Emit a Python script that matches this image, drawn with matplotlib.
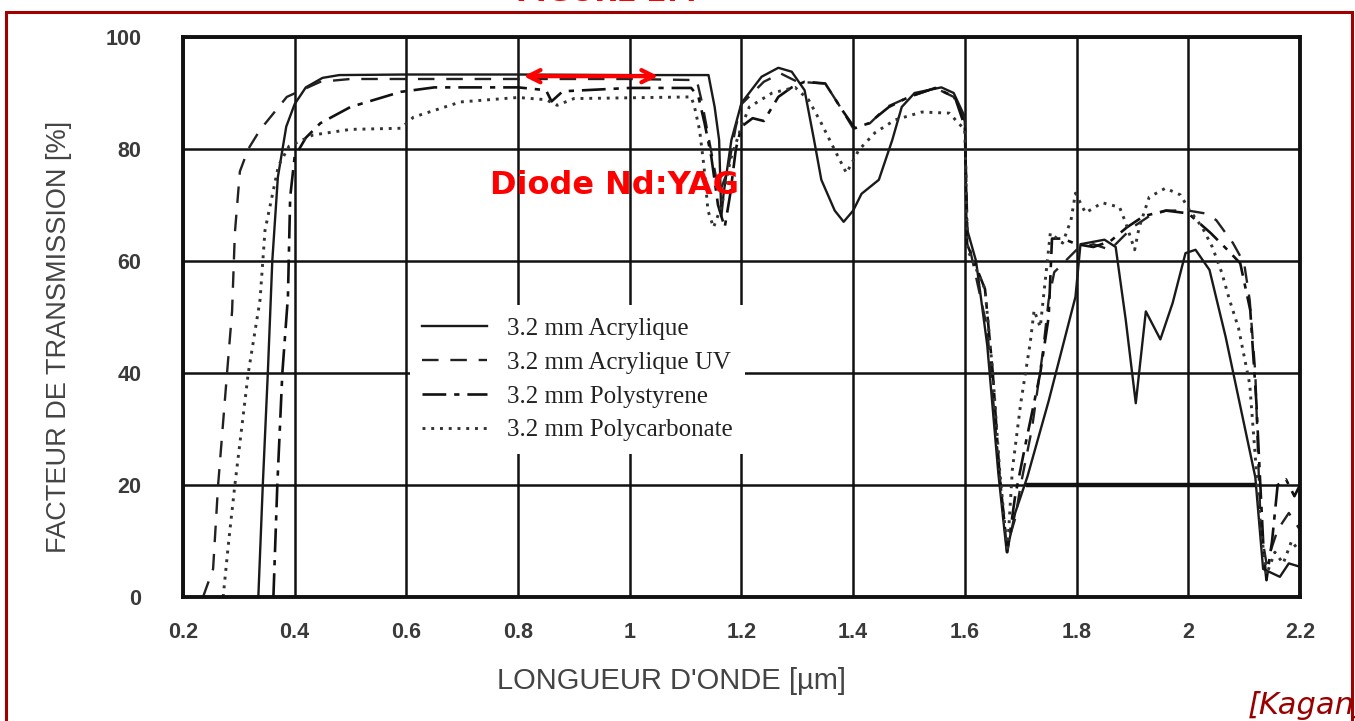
import matplotlib
matplotlib.use("Agg")
import matplotlib.pyplot as plt
from matplotlib.patches import Rectangle

# --- data (wavelength in um, transmission in %) ---
acry_x = [0.335, 0.343, 0.352, 0.36, 0.37, 0.385, 0.40, 0.42, 0.45, 0.48, 0.6, 0.8, 1.0, 1.141,
          1.152, 1.16, 1.164, 1.168, 1.182, 1.2, 1.236, 1.266, 1.29, 1.313, 1.33, 1.343, 1.367,
          1.383, 1.4, 1.415, 1.446, 1.47, 1.487, 1.51, 1.558, 1.58, 1.6, 1.603, 1.62, 1.64, 1.66,
          1.675, 1.69, 1.712, 1.75, 1.798, 1.807, 1.85, 1.87, 1.888, 1.906, 1.924, 1.95, 1.972,
          1.995, 2.013, 2.038, 2.067, 2.092, 2.12, 2.134, 2.164, 2.18, 2.2]
acry_y = [0, 20, 40, 60, 75, 84, 88, 91, 92.7, 93.2, 93.3, 93.3, 93.2, 93.2,
          87.5, 81.6, 68, 72, 81.6, 88.2, 92.9, 94.5, 93.8, 90.5, 81.6, 74.5, 69,
          67, 69, 72, 74.5, 81.6, 87.5, 90, 91, 90, 85.7, 66, 60, 45, 22,
          8, 15, 21.5, 35, 53.6, 63, 63.8, 62.5, 49.5, 34.6, 51, 46, 52.5,
          61.4, 62, 58.4, 46.4, 34.6, 21.4, 5, 3.6, 6, 5.4]

uv_x = [0.236, 0.254, 0.263, 0.279, 0.288, 0.293, 0.302, 0.317, 0.338, 0.386, 0.446, 0.5, 1.0,
        1.12, 1.13, 1.145, 1.16, 1.175, 1.19, 1.2, 1.24, 1.27, 1.3, 1.35, 1.38, 1.4, 1.43, 1.46,
        1.5, 1.547, 1.58, 1.6, 1.605, 1.64, 1.66, 1.675, 1.69, 1.70, 1.72, 1.74, 1.75, 1.76, 1.78,
        1.8, 1.83, 1.86, 1.88, 1.9, 1.93, 1.96, 2.0, 2.03, 2.05, 2.08, 2.10, 2.11, 2.12, 2.125,
        2.13, 2.14, 2.16, 2.18, 2.2]
uv_y = [0, 5, 20, 40, 51, 65, 76, 80, 83.4, 89.3, 92.0, 92.5, 92.5,
        92.3, 88, 80, 72, 76, 84, 88, 92, 93.5, 92, 91.7, 87, 83.7, 84.6, 87.5,
        89.3, 90.9, 89.3, 85, 64, 48, 24, 9, 14, 20, 30, 44, 53, 58, 60,
        62, 63, 62, 64, 66, 68, 69, 69, 68.5, 67.3, 63.2, 59.6, 53, 40, 25,
        12, 6, 12, 15, 12]

ps_x = [0.362, 0.369, 0.378, 0.388, 0.392, 0.40, 0.42, 0.446, 0.5, 0.59, 0.65, 0.8, 0.85, 0.86,
        0.88, 1.0, 1.11, 1.123, 1.134, 1.146, 1.158, 1.17, 1.18, 1.19, 1.2, 1.22, 1.24, 1.266,
        1.29, 1.313, 1.35, 1.38, 1.403, 1.428, 1.464, 1.5, 1.547, 1.582, 1.6, 1.604, 1.636, 1.65,
        1.662, 1.676, 1.69, 1.71, 1.735, 1.75, 1.756, 1.775, 1.8, 1.83, 1.86, 1.89, 1.92, 1.96,
        2.0, 2.04, 2.07, 2.093, 2.111, 2.122, 2.128, 2.135, 2.14, 2.15, 2.16, 2.175, 2.19, 2.2]
ps_y = [0, 20, 40, 53.6, 71.4, 78.6, 82, 84.6, 87.5, 90.2, 91, 91, 90.5, 88.5,
        90.3, 90.9, 90.9, 89.3, 84.6, 78.6, 70, 66, 72, 80, 84, 85.5, 85, 89.3,
        91, 92, 91.7, 87, 83.7, 84.6, 87.5, 89.3, 90.9, 89.3, 84, 63, 55, 40,
        22, 8, 18, 28, 40, 50, 64, 64, 63, 62.5, 63.5, 66, 68, 69,
        68.5, 65, 62, 59.6, 51.2, 34.6, 22, 8, 3, 10, 20, 21, 18, 20]

pc_x = [0.272, 0.282, 0.293, 0.305, 0.317, 0.338, 0.347, 0.371, 0.39, 0.433, 0.5, 0.59, 0.613,
        0.697, 0.8, 0.85, 0.87, 0.9, 1.11, 1.116, 1.125, 1.133, 1.14, 1.15, 1.165, 1.18, 1.2,
        1.214, 1.255, 1.296, 1.32, 1.343, 1.367, 1.388, 1.41, 1.439, 1.475, 1.523, 1.572, 1.6,
        1.605, 1.636, 1.65, 1.662, 1.676, 1.685, 1.70, 1.717, 1.724, 1.735, 1.753, 1.775, 1.79,
        1.798, 1.816, 1.846, 1.877, 1.888, 1.904, 1.912, 1.93, 1.959, 1.986, 2.002, 2.025, 2.043,
        2.06, 2.074, 2.09, 2.11, 2.12, 2.13, 2.14, 2.155, 2.17, 2.185, 2.2]
pc_y = [0, 10, 20, 30, 40, 53, 65.5, 77, 80.5, 82.5, 83.5, 83.7, 85.7,
        88.4, 89.2, 88.8, 87.8, 89, 89.3, 87.5, 83.4, 76.8, 69, 66, 70, 78, 84,
        87.5, 90, 91, 88.8, 84.6, 79.8, 75.7, 79.8, 82.9, 85.2, 86.6, 86.4, 83.4,
        62, 55, 40, 23, 8, 22.7, 34.6, 45.4, 51.2, 48.2, 65, 63.2, 67.3,
        72.1, 68.6, 70.4, 69.6, 66.8, 62, 66, 71.4, 73, 71.8, 69.1, 66, 62.5,
        57.9, 53, 48, 38, 25, 12, 4, 8, 6, 10, 8]

# heavy segment on the 20 % line in the original scan
flat20_level = 20
flat20_from, flat20_to = 1.71, 2.12

# Nd:YAG diode band marked with the red arrow
diode_from, diode_to, diode_level = 0.805, 1.056, 93.0

labels = ["3.2 mm Acrylique", "3.2 mm Acrylique UV", "3.2 mm Polystyrene", "3.2 mm Polycarbonate"]
xticks = [0.2, 0.4, 0.6, 0.8, 1.0, 1.2, 1.4, 1.6, 1.8, 2.0, 2.2]
xtick_labels = ["0.2", "0.4", "0.6", "0.8", "1", "1.2", "1.4", "1.6", "1.8", "2", "2.2"]
yticks = [0, 20, 40, 60, 80, 100]

fig = plt.figure(figsize=(13.55, 7.21), dpi=100)
ax = fig.add_axes([0.135, 0.172, 0.8244, 0.7767])

ax.plot(acry_x, acry_y, color="#1a1a1a", lw=1.7, label=labels[0])
ax.plot(uv_x, uv_y, color="#222222", lw=1.7, ls=(0, (7, 5)), label=labels[1])
ax.plot(ps_x, ps_y, color="#111111", lw=1.9, ls=(0, (9, 3, 2, 3)), label=labels[2])
ax.plot(pc_x, pc_y, color="#333333", lw=2.1, ls=(0, (1, 2)), label=labels[3])
ax.hlines(flat20_level, flat20_from, flat20_to, color="#111111", lw=3.2)

ax.set_xlim(0.2, 2.2)
ax.set_ylim(0, 100)
ax.set_xticks(xticks)
ax.set_xticklabels(xtick_labels)
ax.set_yticks(yticks)
ax.grid(True, color="#111111", lw=1.8)
ax.set_axisbelow(True)
for s in ax.spines.values():
    s.set_linewidth(2.8)
    s.set_color("#111111")

ax.tick_params(axis="x", length=0, pad=18, labelcolor="#3a3a3a")
ax.tick_params(axis="y", length=0, pad=30, labelcolor="#3a3a3a")
for t in ax.get_xticklabels() + ax.get_yticklabels():
    t.set_fontfamily("Liberation Sans")
    t.set_fontsize(15.5)
    t.set_fontweight("bold")

ax.set_ylabel("FACTEUR DE TRANSMISSION [%]", family="Liberation Sans", fontsize=19.5, color="#444444")
ax.yaxis.set_label_coords(-0.099, 0.465)
ax.set_xlabel("LONGUEUR D'ONDE [µm]", family="Liberation Sans", fontsize=21, color="#444444")
ax.xaxis.set_label_coords(0.4378, -0.125)

leg = ax.legend(loc="upper left", bbox_to_anchor=(0.203, 0.521), borderaxespad=0,
                prop={"family": "Liberation Serif", "size": 18}, frameon=True, fancybox=False,
                edgecolor="none", facecolor="white", framealpha=1, handlelength=2.6,
                handletextpad=0.8, labelspacing=0.45, borderpad=0.5)
for txt in leg.get_texts():
    txt.set_color("#222222")

# red annotations added on top of the scan
ax.annotate("", xy=(diode_to, diode_level), xytext=(diode_from, diode_level),
            arrowprops=dict(arrowstyle="<->", color="#ff0000", lw=3, mutation_scale=22))
ax.text(0.972, 73.4, "Diode Nd:YAG", color="#ff0000", fontsize=23, fontweight="bold",
        ha="center", va="center", family="DejaVu Sans")

fig.text(607 / 1355, 1 - 1 / 721, "FIGURE 2.4", color="#ff0000", fontsize=21, fontweight="bold",
         ha="center", va="baseline", family="DejaVu Sans")
fig.text(1248 / 1355, 1 - 705 / 721, "[Kagan]", color="#990000", fontsize=22, style="italic",
         ha="left", va="center", family="DejaVu Sans")
fig.patches.append(Rectangle((6 / 1355, -0.1), (1352 - 6) / 1355, 1.1 - 12 / 721,
                             transform=fig.transFigure, fill=False, ec="#a00000", lw=2.2))

fig.savefig("out.png", dpi=100, facecolor="white")
